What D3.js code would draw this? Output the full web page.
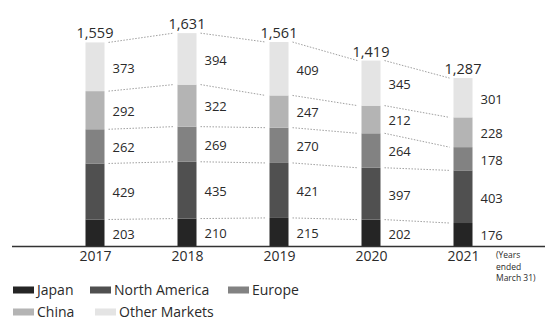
<!DOCTYPE html>
<html>
<head>
<meta charset="utf-8">
<script src="https://cdn.jsdelivr.net/npm/d3@7"></script>
<style>
  body { margin: 0; background: #fff; }
  text { font-family: "Open Sans", sans-serif; fill: #2a2a2a; }
</style>
</head>
<body>
<svg width="549" height="323"></svg>
<script>
var years = ["2017", "2018", "2019", "2020", "2021"];
var regions = ["Japan", "North America", "Europe", "China", "Other Markets"];
var japan = [203, 210, 215, 202, 176];
var northAmerica = [429, 435, 421, 397, 403];
var europe = [262, 269, 270, 264, 178];
var china = [292, 322, 247, 212, 228];
var otherMarkets = [373, 394, 409, 345, 301];
var totals = [1559, 1631, 1561, 1419, 1287];
var colors = ["#252525", "#505050", "#828282", "#b4b4b4", "#e4e4e4"];

var svg = d3.select("svg");
var series = [japan, northAmerica, europe, china, otherMarkets];

var data = years.map(function(yr, i) {
  var d = {year: yr};
  regions.forEach(function(r, k) { d[r] = series[k][i]; });
  return d;
});

var stack = d3.stack().keys(regions)(data);

var x = d3.scalePoint().domain(years).range([49, 509]).padding(0.5),
    y = d3.scaleLinear().domain([0, 1700]).range([246, 24]),
    z = d3.scaleOrdinal().domain(regions).range(colors);

var barW = 19;

// dotted connectors between bars at each boundary
var links = svg.append("g");
stack.forEach(function(layer) {
  for (var i = 0; i < years.length - 1; i++) {
    links.append("line")
      .attr("x1", x(years[i]) + barW / 2 + 4)
      .attr("y1", y(layer[i][1]))
      .attr("x2", x(years[i + 1]) - barW / 2 - 4)
      .attr("y2", y(layer[i + 1][1]))
      .attr("stroke", "#a0a0a0")
      .attr("stroke-width", 1)
      .attr("stroke-dasharray", "1.5,1.5");
  }
});

// bars
var layer = svg.selectAll(".layer")
  .data(stack)
  .enter().append("g")
    .attr("class", "layer")
    .attr("fill", function(d) { return z(d.key); });

layer.selectAll("rect")
  .data(function(d) { return d; })
  .enter().append("rect")
    .attr("x", function(d) { return x(d.data.year) - barW / 2; })
    .attr("y", function(d) { return y(d[1]); })
    .attr("width", barW)
    .attr("height", function(d) { return y(d[0]) - y(d[1]); });

// segment values
layer.selectAll("text")
  .data(function(d) { return d.map(function(v) { return {v: v, key: d.key}; }); })
  .enter().append("text")
    .attr("x", function(d) { return x(d.v.data.year) + barW / 2 + 8; })
    .attr("y", function(d) { return y((d.v[0] + d.v[1]) / 2); })
    .attr("dy", "0.45em")
    .style("font-size", "13px")
    .text(function(d) { return d.v.data[d.key]; });

// totals
svg.selectAll(".total")
  .data(years)
  .enter().append("text")
    .attr("class", "total")
    .attr("x", function(d) { return x(d); })
    .attr("y", function(d, i) { return y(totals[i]) - 4; })
    .attr("text-anchor", "middle")
    .style("font-size", "14.5px")
    .text(function(d, i) { return d3.format(",")(totals[i]); });

// baseline axis
var axis = svg.append("g")
    .attr("transform", "translate(0," + y(0) + ")")
    .call(d3.axisBottom(x).tickSize(0).tickPadding(5));
axis.select(".domain").attr("d", "M12,0.5H545").attr("stroke", "#333").attr("stroke-width", 1.5);
axis.selectAll("text")
    .style("font-family", "'Open Sans', sans-serif")
    .style("font-size", "14px")
    .attr("fill", "#2a2a2a");

// note under the last year
var note = ["(Years", "ended", "March 31)"];
svg.selectAll(".note")
  .data(note)
  .enter().append("text")
    .attr("class", "note")
    .attr("x", 496)
    .attr("y", function(d, i) { return 258 + i * 11.5; })
    .style("font-size", "8.5px")
    .text(function(d) { return d; });

// legend
var legendPos = [[13, 290], [90, 290], [228, 290], [13, 312], [95, 312]];
var legend = svg.selectAll(".legend")
  .data(regions)
  .enter().append("g")
    .attr("class", "legend")
    .attr("transform", function(d, i) { return "translate(" + legendPos[i][0] + "," + legendPos[i][1] + ")"; });

legend.append("rect")
    .attr("y", -3.5)
    .attr("width", 21)
    .attr("height", 7)
    .attr("fill", function(d) { return z(d); });

legend.append("text")
    .attr("x", 24)
    .attr("dy", "0.35em")
    .style("font-size", "14px")
    .text(function(d) { return d; });
</script>
</body>
</html>
